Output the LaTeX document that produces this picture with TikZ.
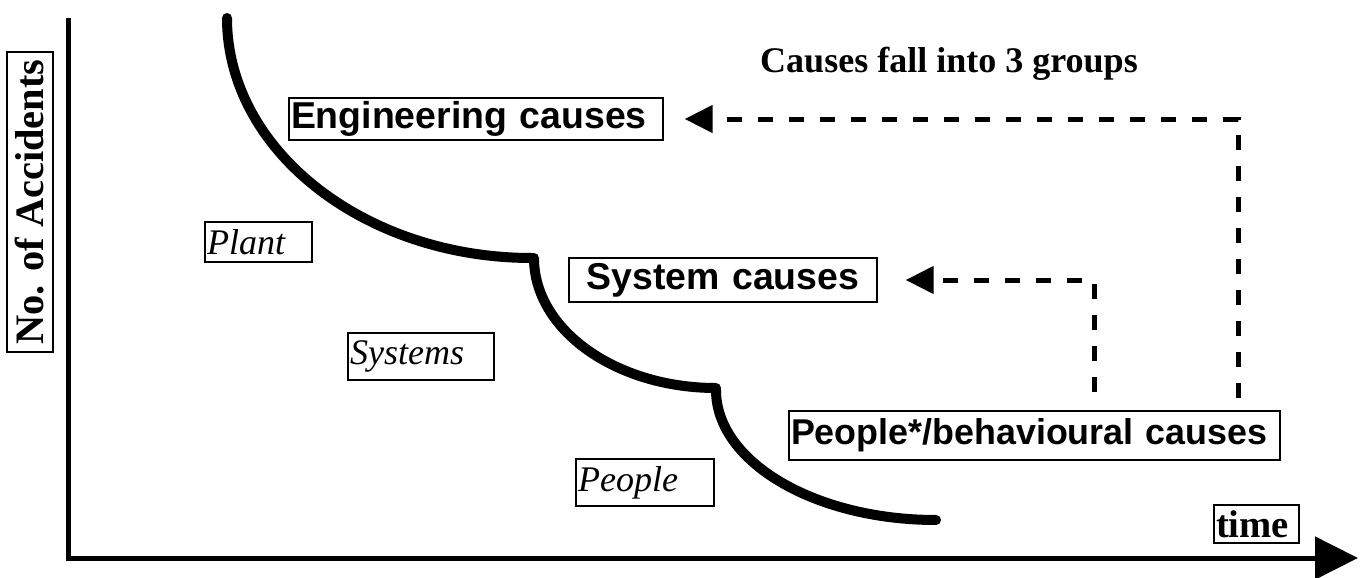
\documentclass[tikz,border=0pt]{standalone}
\usepackage{fontspec}
\setmainfont{Liberation Serif}
\setsansfont{Liberation Sans}
\usetikzlibrary{arrows.meta}

\begin{document}
\begin{tikzpicture}[
    x=0.02cm, y=-0.02cm,
    axisline/.style={line width=0.1cm},
    stair/.style={line width=0.2cm, line cap=round},
    cause/.style={draw, line width=0.03cm, inner xsep=0.04cm, inner ysep=0pt, align=left, font=\sffamily\bfseries\fontsize{21.3}{24}\selectfont},
    factor/.style={draw, line width=0.03cm, inner xsep=0.04cm, inner ysep=0pt, align=left, font=\itshape\fontsize{20.5}{24}\selectfont},
    feed/.style={line width=0.1cm, dash pattern=on 0.3cm off 0.32cm, -{Triangle[length=0.56cm, width=0.54cm]}}
]
    \useasboundingbox (0,0) rectangle (1367,578);

    % axes
    \coordinate (ytop) at (68,18);
    \coordinate (origin) at (68,558);
    \coordinate (xend) at (1358,558);
    \draw[axisline, -{Triangle[length=0.86cm, width=0.84cm]}] (ytop) -- (origin) -- (xend);

    \node[draw, line width=0.03cm, rotate=90, minimum width=6cm, minimum height=0.92cm, inner sep=0pt, font=\bfseries\fontsize{23}{26}\selectfont] (ylabel) at (30,202) {No. of Accidents};
    \node[draw, line width=0.03cm, text width=1.62cm, minimum height=0.76cm, inner xsep=0.04cm, inner ysep=0pt, align=left, font=\bfseries\fontsize{22}{24}\selectfont] (xlabel) at (1256.5,524) {time};

    % the falling curve
    \draw[stair] (227,18) .. controls (227,150) and (364,258) .. (532,258);
    \draw[stair] (534,258) .. controls (534,330) and (616,388) .. (716,388);
    \draw[stair] (716,390) .. controls (716,462) and (815,520) .. (936,520);

    \node[factor, text width=2.06cm, minimum height=0.8cm] (plant) at (258.5,242) {Plant};
    \node[factor, text width=2.84cm, minimum height=0.94cm] (systems) at (421,356.5) {Systems};
    \node[factor, text width=2.68cm, minimum height=0.94cm] (people) at (645,482.5) {People};

    % the three groups
    \node[font=\bfseries\fontsize{20.5}{24}\selectfont] (title) at (949,64) {Causes fall into 3 groups};
    \node[cause, text width=7.40cm, minimum height=0.84cm] (eng) at (476,119) {Engineering causes};
    \node[cause, text width=6.08cm, minimum height=0.88cm, align=center] (sys) at (723,280) {System causes};
    \node[cause, text width=9.74cm, minimum height=0.98cm, font=\sffamily\bfseries\fontsize{20.4}{24}\selectfont] (beh) at (1034.5,435.5) {\mbox{People*/behavioural causes}};

    \coordinate (engfoot) at (1238,398);
    \coordinate (sysfoot) at (1094,392);
    \draw[feed, shorten >=0.42cm] (engfoot) |- (eng.east);
    \draw[feed, shorten >=0.56cm] (sysfoot) |- (sys.east);
\end{tikzpicture}
\end{document}
